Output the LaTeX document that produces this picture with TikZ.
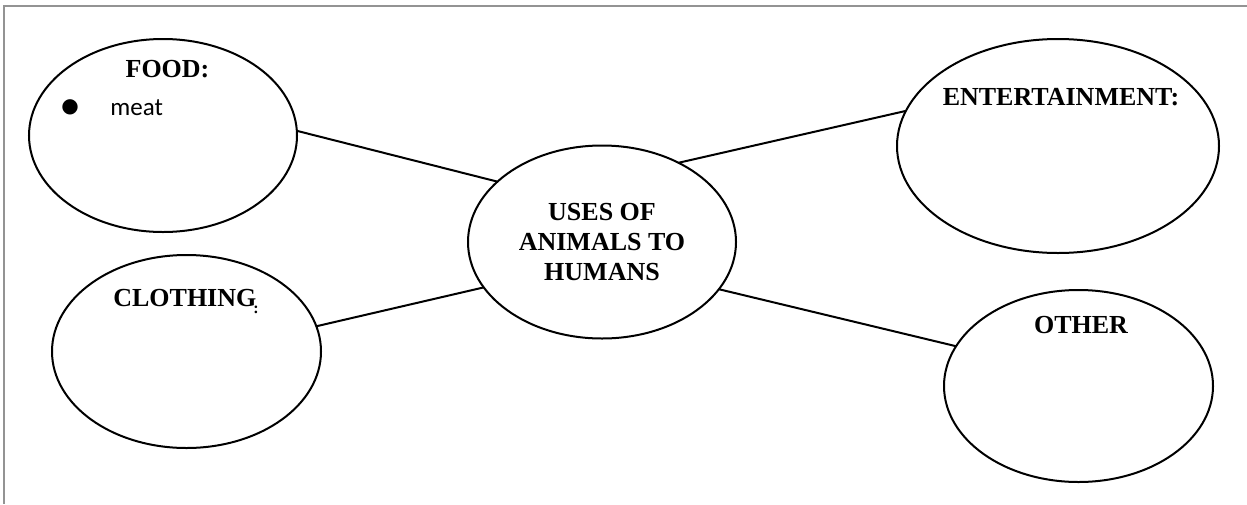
\documentclass[tikz,border=0pt]{standalone}
\usepackage{fontspec}
\setmainfont{Liberation Serif}
\newfontfamily\calibri{Carlito}
\newfontfamily\dejavu{DejaVu Sans}
\usepackage{tikz}
\usetikzlibrary{shapes.geometric}

\tikzset{
  bubble/.style={ellipse,draw,line width=1pt,inner sep=0pt,outer sep=0pt},
  heading/.style={font=\bfseries\fontsize{13pt}{15pt}\selectfont,inner sep=0pt},
  entry/.style={font=\calibri\fontsize{12.5pt}{14pt}\selectfont,inner sep=0pt}
}

\begin{document}
\begin{tikzpicture}[x=0.5pt,y=-0.5pt]
   \useasboundingbox (0,0) rectangle (1247,504);
   % page frame (only top and left edge are in view)
   \draw[line width=1.2pt,gray!85] (1247,6) -- (4,6) -- (4,504);
   % the five bubbles
   \node[bubble,minimum width=134pt,minimum height=96.5pt] (hub) at (602,242) {};
   \node[bubble,minimum width=134pt,minimum height=96.5pt] (food) at (163,135.5) {};
   \node[bubble,minimum width=161pt,minimum height=107pt] (fun) at (1058,146) {};
   \node[bubble,minimum width=134.5pt,minimum height=96.5pt] (cloth) at (186.5,351.5) {};
   \node[bubble,minimum width=134.5pt,minimum height=96pt] (other) at (1078.5,386) {};
   % texts
   \node[heading,align=center] (hubtext) at (602,242) {USES OF\\ANIMALS TO\\HUMANS};
   \node[heading,anchor=base] (foodtext) at (167.5,77) {FOOD:};
   \node[font=\dejavu\fontsize{10pt}{10pt}\selectfont,inner sep=0pt] (dot) at (70,107) {●};
   \node[entry,anchor=base west] (meat) at (110,115) {meat};
   \node[heading,anchor=base] (funtext) at (1061,105) {ENTERTAINMENT:};
   \node[heading,anchor=base] (clothtext) at (186,306) {CLOTHING\kern-1.5pt\raisebox{-3.5pt}{\fontsize{8pt}{8pt}\selectfont :}};
   \node[heading,anchor=base] (othertext) at (1081,333) {OTHER};
   % connectors
   \draw[line width=1pt] (food.2) -- (hub.150);
   \draw[line width=1pt] (hub.46) -- (fun.167);
   \draw[line width=1pt] (cloth.11) -- (hub.201);
   \draw[line width=1pt] (hub.338) -- (other.162);
\end{tikzpicture}
\end{document}
